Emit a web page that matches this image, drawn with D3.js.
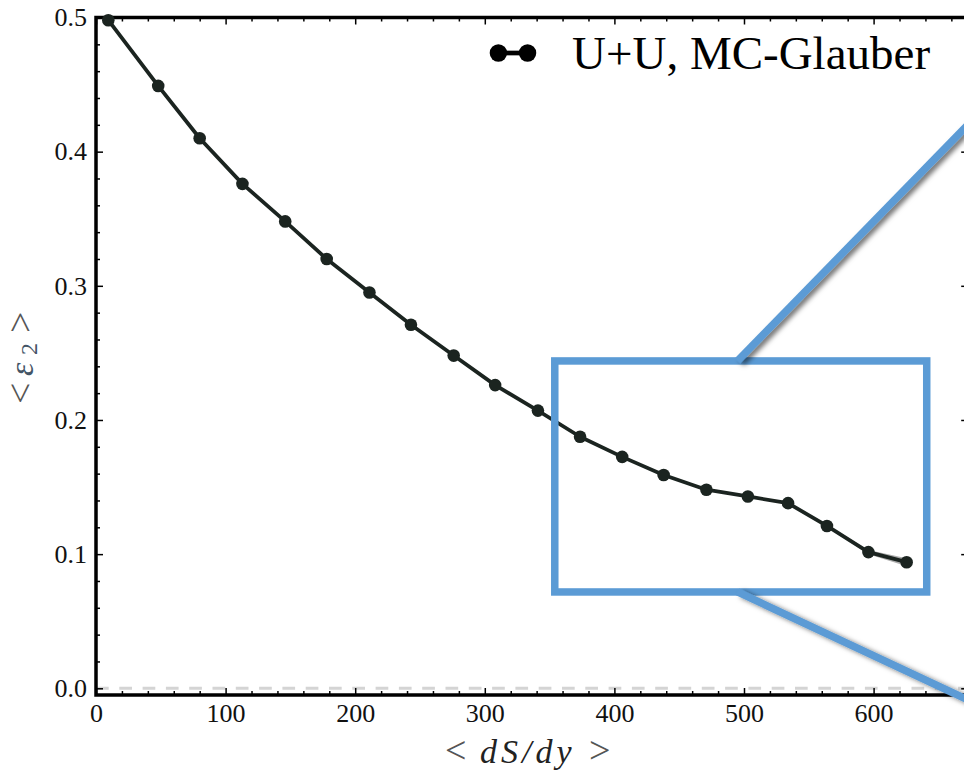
<!DOCTYPE html>
<html><head><meta charset="utf-8">
<script src="https://cdn.jsdelivr.net/npm/d3@7"></script>
<style>
html,body{margin:0;padding:0;background:#fff;}
svg{display:block;}
</style></head>
<body>
<svg id="chart" width="964" height="776"></svg>
<script>
// ---- data ----
const dSdy = [9.5, 48, 80, 113, 146, 178, 211, 243, 276, 308, 341, 373.5, 406, 438, 471, 503, 534, 564, 596, 625.5];
const eps2 = [0.498, 0.449, 0.410, 0.376, 0.348, 0.320, 0.295, 0.271, 0.248, 0.226, 0.207, 0.1875, 0.1725, 0.159, 0.148, 0.143, 0.138, 0.121, 0.1015, 0.094];
const eps2Err = [0.0005, 0.0005, 0.0005, 0.0005, 0.0005, 0.0005, 0.0005, 0.0005, 0.0005, 0.0005, 0.0005, 0.0005, 0.0005, 0.0005, 0.0005, 0.0005, 0.0005, 0.001, 0.0015, 0.003];
const xTicks = [0, 100, 200, 300, 400, 500, 600];
const yTicks = [0.0, 0.1, 0.2, 0.3, 0.4, 0.5];
const yTickLabels = ["0.0", "0.1", "0.2", "0.3", "0.4", "0.5"];
const seriesLabel = "U+U, MC-Glauber";
// zoom annotation in data units
const zoomBox = {x0: 354, x1: 641, y0: 0.0718, y1: 0.244};
const connectors = [
  [[495, 0.244], [700, 0.447]],
  [[495, 0.0718], [700, -0.021]]
];

const svg = d3.select("#chart");
const L = 96, R = 968.2, T = 17.5, B = 695;

const x = d3.scaleLinear().domain([0, 673]).range([L, R]);
const y = d3.scaleLinear().domain([-0.005, 0.5]).range([B, T]);

const xMinor = d3.range(0, 673, 20).filter(v => v % 100 !== 0);
const yMinor = d3.range(0, 0.5, 0.02).map(v => +v.toFixed(2)).filter(v => Math.round(v*100) % 10 !== 0);

const defs = svg.append("defs");
const f = defs.append("filter").attr("id","shadow").attr("x","-20%").attr("y","-20%").attr("width","140%").attr("height","140%");
f.append("feDropShadow").attr("dx",4).attr("dy",2).attr("stdDeviation",2.5).attr("flood-color","#000").attr("flood-opacity",0.55);

// zero dashed line
svg.append("line")
  .attr("x1", x(0)).attr("x2", R).attr("y1", y(0)).attr("y2", y(0))
  .attr("stroke", "#d4d4d4").attr("stroke-width", 3).attr("stroke-dasharray", "12.7,10.6");

const tickFont = "'Liberation Serif', 'DejaVu Serif', serif";

function styleAxis(g){
  g.select(".domain").remove();
  g.selectAll(".tick line").attr("stroke","#000").attr("stroke-width",1.5);
  g.selectAll(".tick text").attr("fill","#111").style("font-family",tickFont).style("font-size","26px");
}

// bottom axis
svg.append("g").attr("transform",`translate(0,${B})`)
  .call(d3.axisBottom(x).tickValues(xTicks).tickSize(-7).tickPadding(9).tickFormat(d3.format("d")))
  .call(styleAxis);
svg.append("g").attr("transform",`translate(0,${B})`)
  .call(d3.axisBottom(x).tickValues(xMinor).tickSize(-4).tickFormat(""))
  .call(styleAxis);
// top axis
svg.append("g").attr("transform",`translate(0,${T})`)
  .call(d3.axisTop(x).tickValues(xTicks).tickSize(-7).tickFormat(""))
  .call(styleAxis);
svg.append("g").attr("transform",`translate(0,${T})`)
  .call(d3.axisTop(x).tickValues(xMinor).tickSize(-4).tickFormat(""))
  .call(styleAxis);
// left axis
svg.append("g").attr("transform",`translate(${L},0)`)
  .call(d3.axisLeft(y).tickValues(yTicks).tickSize(-7).tickPadding(9).tickFormat((d,i)=>yTickLabels[i]))
  .call(styleAxis);
svg.append("g").attr("transform",`translate(${L},0)`)
  .call(d3.axisLeft(y).tickValues(yMinor).tickSize(-4).tickFormat(""))
  .call(styleAxis);
// right axis
svg.append("g").attr("transform",`translate(${R},0)`)
  .call(d3.axisRight(y).tickValues(yTicks).tickSize(-7).tickFormat(""))
  .call(styleAxis);
svg.append("g").attr("transform",`translate(${R},0)`)
  .call(d3.axisRight(y).tickValues(yMinor).tickSize(-4).tickFormat(""))
  .call(styleAxis);

// spines
svg.append("rect").attr("x",L).attr("y",T).attr("width",R-L).attr("height",B-T)
  .attr("fill","none").attr("stroke","#000").attr("stroke-width",3.5);

// data
const pts = dSdy.map((d,i)=>({x:d, y:eps2[i], e:eps2Err[i]}));
svg.append("path").datum(pts)
  .attr("d", d3.area().x(d=>x(d.x)).y0(d=>y(d.y-d.e)).y1(d=>y(d.y+d.e)))
  .attr("fill","#777").attr("fill-opacity",0.6);
svg.append("path").datum(pts)
  .attr("d", d3.line().x(d=>x(d.x)).y(d=>y(d.y)))
  .attr("fill","none").attr("stroke","#1b2420").attr("stroke-width",3.8).attr("stroke-linejoin","round");
svg.append("g").selectAll("circle").data(pts).join("circle")
  .attr("cx",d=>x(d.x)).attr("cy",d=>y(d.y)).attr("r",6.3).attr("fill","#1b2420");

// legend
const lg = svg.append("g");
const lx0 = x(310.5), lx1 = x(333), ly = 53;
lg.append("line").attr("x1",lx0).attr("x2",lx1).attr("y1",ly).attr("y2",ly).attr("stroke","#000").attr("stroke-width",4.7);
lg.selectAll("circle").data([lx0,lx1]).join("circle").attr("cx",d=>d).attr("cy",ly).attr("r",8.7).attr("fill","#000");
lg.append("text").attr("x",572).attr("y",69).text(seriesLabel)
  .style("font-family","'Liberation Serif', serif").style("font-size","47px").attr("fill","#000");

// zoom annotation
const blue = "#5b9bd5";
svg.append("rect")
  .attr("x", x(zoomBox.x0)).attr("y", y(zoomBox.y1))
  .attr("width", x(zoomBox.x1)-x(zoomBox.x0)).attr("height", y(zoomBox.y0)-y(zoomBox.y1))
  .attr("fill","none").attr("stroke",blue).attr("stroke-width",7.5);
svg.append("g").selectAll("line").data(connectors).join("line")
  .attr("x1",d=>x(d[0][0])).attr("y1",d=>y(d[0][1]))
  .attr("x2",d=>x(d[1][0])).attr("y2",d=>y(d[1][1]))
  .attr("stroke",blue).attr("stroke-width",7.5).attr("filter","url(#shadow)");

// axis titles
const titleFont = "'Liberation Serif', serif";
const xt = svg.append("text").attr("y", 763)
  .style("font-family", titleFont).attr("fill","#555");
xt.append("tspan").attr("x", 445).text("<").style("font-size","38px");
xt.append("tspan").attr("x", 480).text("dS/dy").style("font-style","italic").style("font-size","34px")
  .style("letter-spacing","4px").attr("fill","#222");
xt.append("tspan").attr("x", 589).text(">").style("font-size","38px");

const yt = svg.append("text").attr("transform","translate(33,0) rotate(-90)")
  .style("font-family", titleFont).attr("fill","#555");
yt.append("tspan").attr("x", -404).text("<").style("font-size","38px");
yt.append("tspan").attr("x", -376).text("ε").style("font-style","italic").style("font-size","34px").attr("fill","#456");
yt.append("tspan").attr("x", -355).attr("dy", 4).text("2").style("font-size","24px").attr("fill","#456");
yt.append("tspan").attr("x", -333).attr("dy", -4).text(">").style("font-size","38px");
</script>
</body></html>
